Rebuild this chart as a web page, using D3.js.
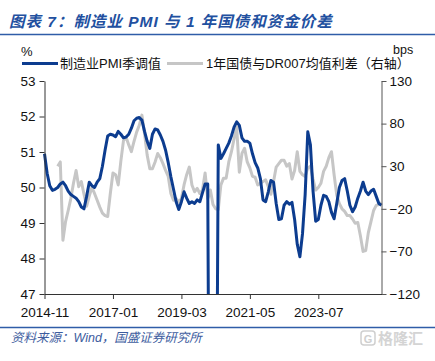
<!DOCTYPE html>
<html>
<head>
<meta charset="utf-8">
<script src="https://cdn.jsdelivr.net/npm/d3@7"></script>
<style>
body{margin:0;background:#fff;}
svg{display:block;font-family:"Liberation Sans",Arial,"Noto Sans CJK SC",sans-serif;}
</style>
</head>
<body>
<svg id="chart" width="435" height="361"></svg>
<script>
// months 2014-11 .. 2025-07
let months = d3.timeMonth.range(new Date(2014,10,1), new Date(2025,7,1)).map(d3.timeFormat("%Y-%m"));

// 制造业PMI季调值 (left axis, %)
let pmi = [
50.95,50.4,50.05,49.92,49.95,50.0,50.1,50.15,50.05,49.9,
49.8,49.75,49.7,49.6,49.45,49.4,49.75,50.15,50.05,50.0,
50.15,50.25,50.6,51.05,51.45,51.5,51.48,51.43,51.58,51.5,
51.4,51.42,51.5,51.67,51.88,51.95,51.97,51.9,51.58,51.3,
51.1,51.5,51.65,51.62,51.48,51.3,51.05,50.7,50.3,49.95,
49.6,49.38,49.6,49.88,49.7,49.55,49.6,49.55,49.65,49.6,
49.85,50.1,50.1,35.7,40.0,38.0,51.2,50.82,50.95,51.1,
51.25,51.45,51.7,51.85,51.75,51.4,51.3,51.3,51.25,50.95,
50.7,50.55,50.25,49.65,49.6,49.88,50.2,50.15,49.55,49.1,
49.12,49.5,49.6,49.53,49.58,49.1,48.4,48.05,48.7,49.8,
51.57,51.2,49.9,49.05,49.1,49.5,49.78,49.75,49.6,49.3,
49.12,49.55,50.0,50.2,50.25,49.9,49.5,49.32,49.45,49.7,
49.9,50.15,49.9,49.8,49.9,49.95,49.75,49.55,49.5
];

// 1年国债与DR007均值利差 (right axis, bps)
let spread = [
null,null,null,null,null,30,35,-57,-35,-22,
-8,10,25,6,12,-3,-17,-5,5,-2,
-10,-18,-25,-28,-29,-2,22,20,8,36,
60,64,55,47,59,70,78,90,68,43,
27,27,35,45,40,33,25,18,-2,-10,
-8,-12,-8,8,20,29,8,0,4,-2,
2,22,-8,2,-15,-20,-21,8,16,16,
35,47,62,76,23,45,51,35,28,18,
17,8,10,12,14,6,-3,12,29,33,
37,37,30,33,15,25,47,24,20,18,
28,30,15,2,5,10,24,30,40,47,
20,-4,-14,-20,-23,-28,-28,-32,-37,-36,
-52,-70,-69,-48,-35,-22,-16,-15,-13
];

let leftTicks = [47,48,49,50,51,52,53];
let rightTicks = [-120,-70,-20,30,80,130];
let xTicks = ["2014-11","2017-01","2019-03","2021-05","2023-07"];

let svg = d3.select("#chart");

let plotLeft = 44.5, plotRight = 381.5, plotTop = 81, plotBottom = 294;

let x = d3.scalePoint().domain(months).range([plotLeft, plotRight]);
let yL = d3.scaleLinear().domain([47,53]).range([plotBottom, plotTop]);
let yR = d3.scaleLinear().domain([-120,130]).range([plotBottom, plotTop]);

// title
svg.append("text")
  .attr("x", 9).attr("y", 27)
  .attr("fill", "#22509f")
  .attr("font-size", 15.5).attr("font-weight", "bold").attr("font-style", "italic")
  .attr("letter-spacing", 1)
  .text("图表 7：制造业 PMI 与 1 年国债和资金价差");

svg.append("line").attr("x1",0).attr("x2",435).attr("y1",34.5).attr("y2",34.5)
  .attr("stroke","#2f5da8").attr("stroke-width",1.6);

svg.append("line").attr("x1",0).attr("x2",435).attr("y1",327.5).attr("y2",327.5)
  .attr("stroke","#2f5da8").attr("stroke-width",1.4);

// unit labels
svg.append("text").attr("x",21).attr("y",55.5).attr("font-size",13).attr("fill","#111").text("%");
svg.append("text").attr("x",393).attr("y",54).attr("font-size",12.5).attr("fill","#111").text("bps");

// legend
let legend = svg.append("g").attr("font-size",13).attr("fill","#111");
legend.append("line").attr("x1",22).attr("x2",58).attr("y1",63.5).attr("y2",63.5)
  .attr("stroke","#0c3c8f").attr("stroke-width",3);
legend.append("text").attr("x",60).attr("y",68).text("制造业PMI季调值");
legend.append("line").attr("x1",167).attr("x2",203).attr("y1",63.5).attr("y2",63.5)
  .attr("stroke","#c6c6c6").attr("stroke-width",3);
legend.append("text").attr("x",206).attr("y",68).text("1年国债与DR007均值利差（右轴）");

// clip
svg.append("clipPath").attr("id","plot")
  .append("rect").attr("x",plotLeft-2).attr("y",plotTop-8).attr("width",plotRight-plotLeft+4).attr("height",plotBottom-plotTop+8);

let plot = svg.append("g").attr("clip-path","url(#plot)");

let lineR = d3.line()
  .defined(d => d != null)
  .x((d,i) => x(months[i]))
  .y(d => yR(d));

let lineL = d3.line()
  .x((d,i) => x(months[i]))
  .y(d => yL(d));

plot.append("path").datum(spread)
  .attr("d", lineR)
  .attr("fill","none").attr("stroke","#c6c6c6").attr("stroke-width",3)
  .attr("stroke-linejoin","round");

plot.append("path").datum(pmi)
  .attr("d", lineL)
  .attr("fill","none").attr("stroke","#0c3c8f").attr("stroke-width",3)
  .attr("stroke-linejoin","round");

// axes
let axL = svg.append("g").attr("transform","translate("+plotLeft+",0)")
  .call(d3.axisLeft(yL).tickValues(leftTicks).tickFormat(d3.format("d")).tickSize(5).tickSizeOuter(0).tickPadding(4));
let axR = svg.append("g").attr("transform","translate("+plotRight+",0)")
  .call(d3.axisRight(yR).tickValues(rightTicks).tickFormat(d3.format("d")).tickSize(5).tickSizeOuter(0).tickPadding(3));
let axB = svg.append("g").attr("transform","translate(0,"+plotBottom+")")
  .call(d3.axisBottom(x).tickValues(xTicks).tickSize(5).tickSizeOuter(0).tickPadding(8));

axL.selectAll("path,line").attr("stroke","#333");
axB.selectAll("path,line").attr("stroke","#333");
axR.selectAll("path,line").attr("stroke","#555");
svg.selectAll(".tick text").attr("font-size",13.5).attr("fill","#111")
  .attr("font-family",'"Liberation Sans",Arial,sans-serif');

// source
svg.append("text").attr("x",11).attr("y",342)
  .attr("font-size",12.5).attr("font-style","italic").attr("fill","#3d5c9e")
  .text("资料来源：Wind，国盛证券研究所");

// watermark
let wm = svg.append("g").attr("fill","none").attr("stroke","#cfcfcf");
wm.append("rect").attr("x",361).attr("y",331).attr("width",14).attr("height",14).attr("rx",3).attr("stroke-width",1.5);
svg.append("text").attr("x",368).attr("y",342.5).attr("text-anchor","middle")
  .attr("font-size",11).attr("font-weight","bold").attr("fill","#cfcfcf").text("G");
svg.append("text").attr("x",378).attr("y",344)
  .attr("font-size",15).attr("font-weight","bold").attr("fill","#d4d4d4").text("格隆汇");
</script>
</body>
</html>
